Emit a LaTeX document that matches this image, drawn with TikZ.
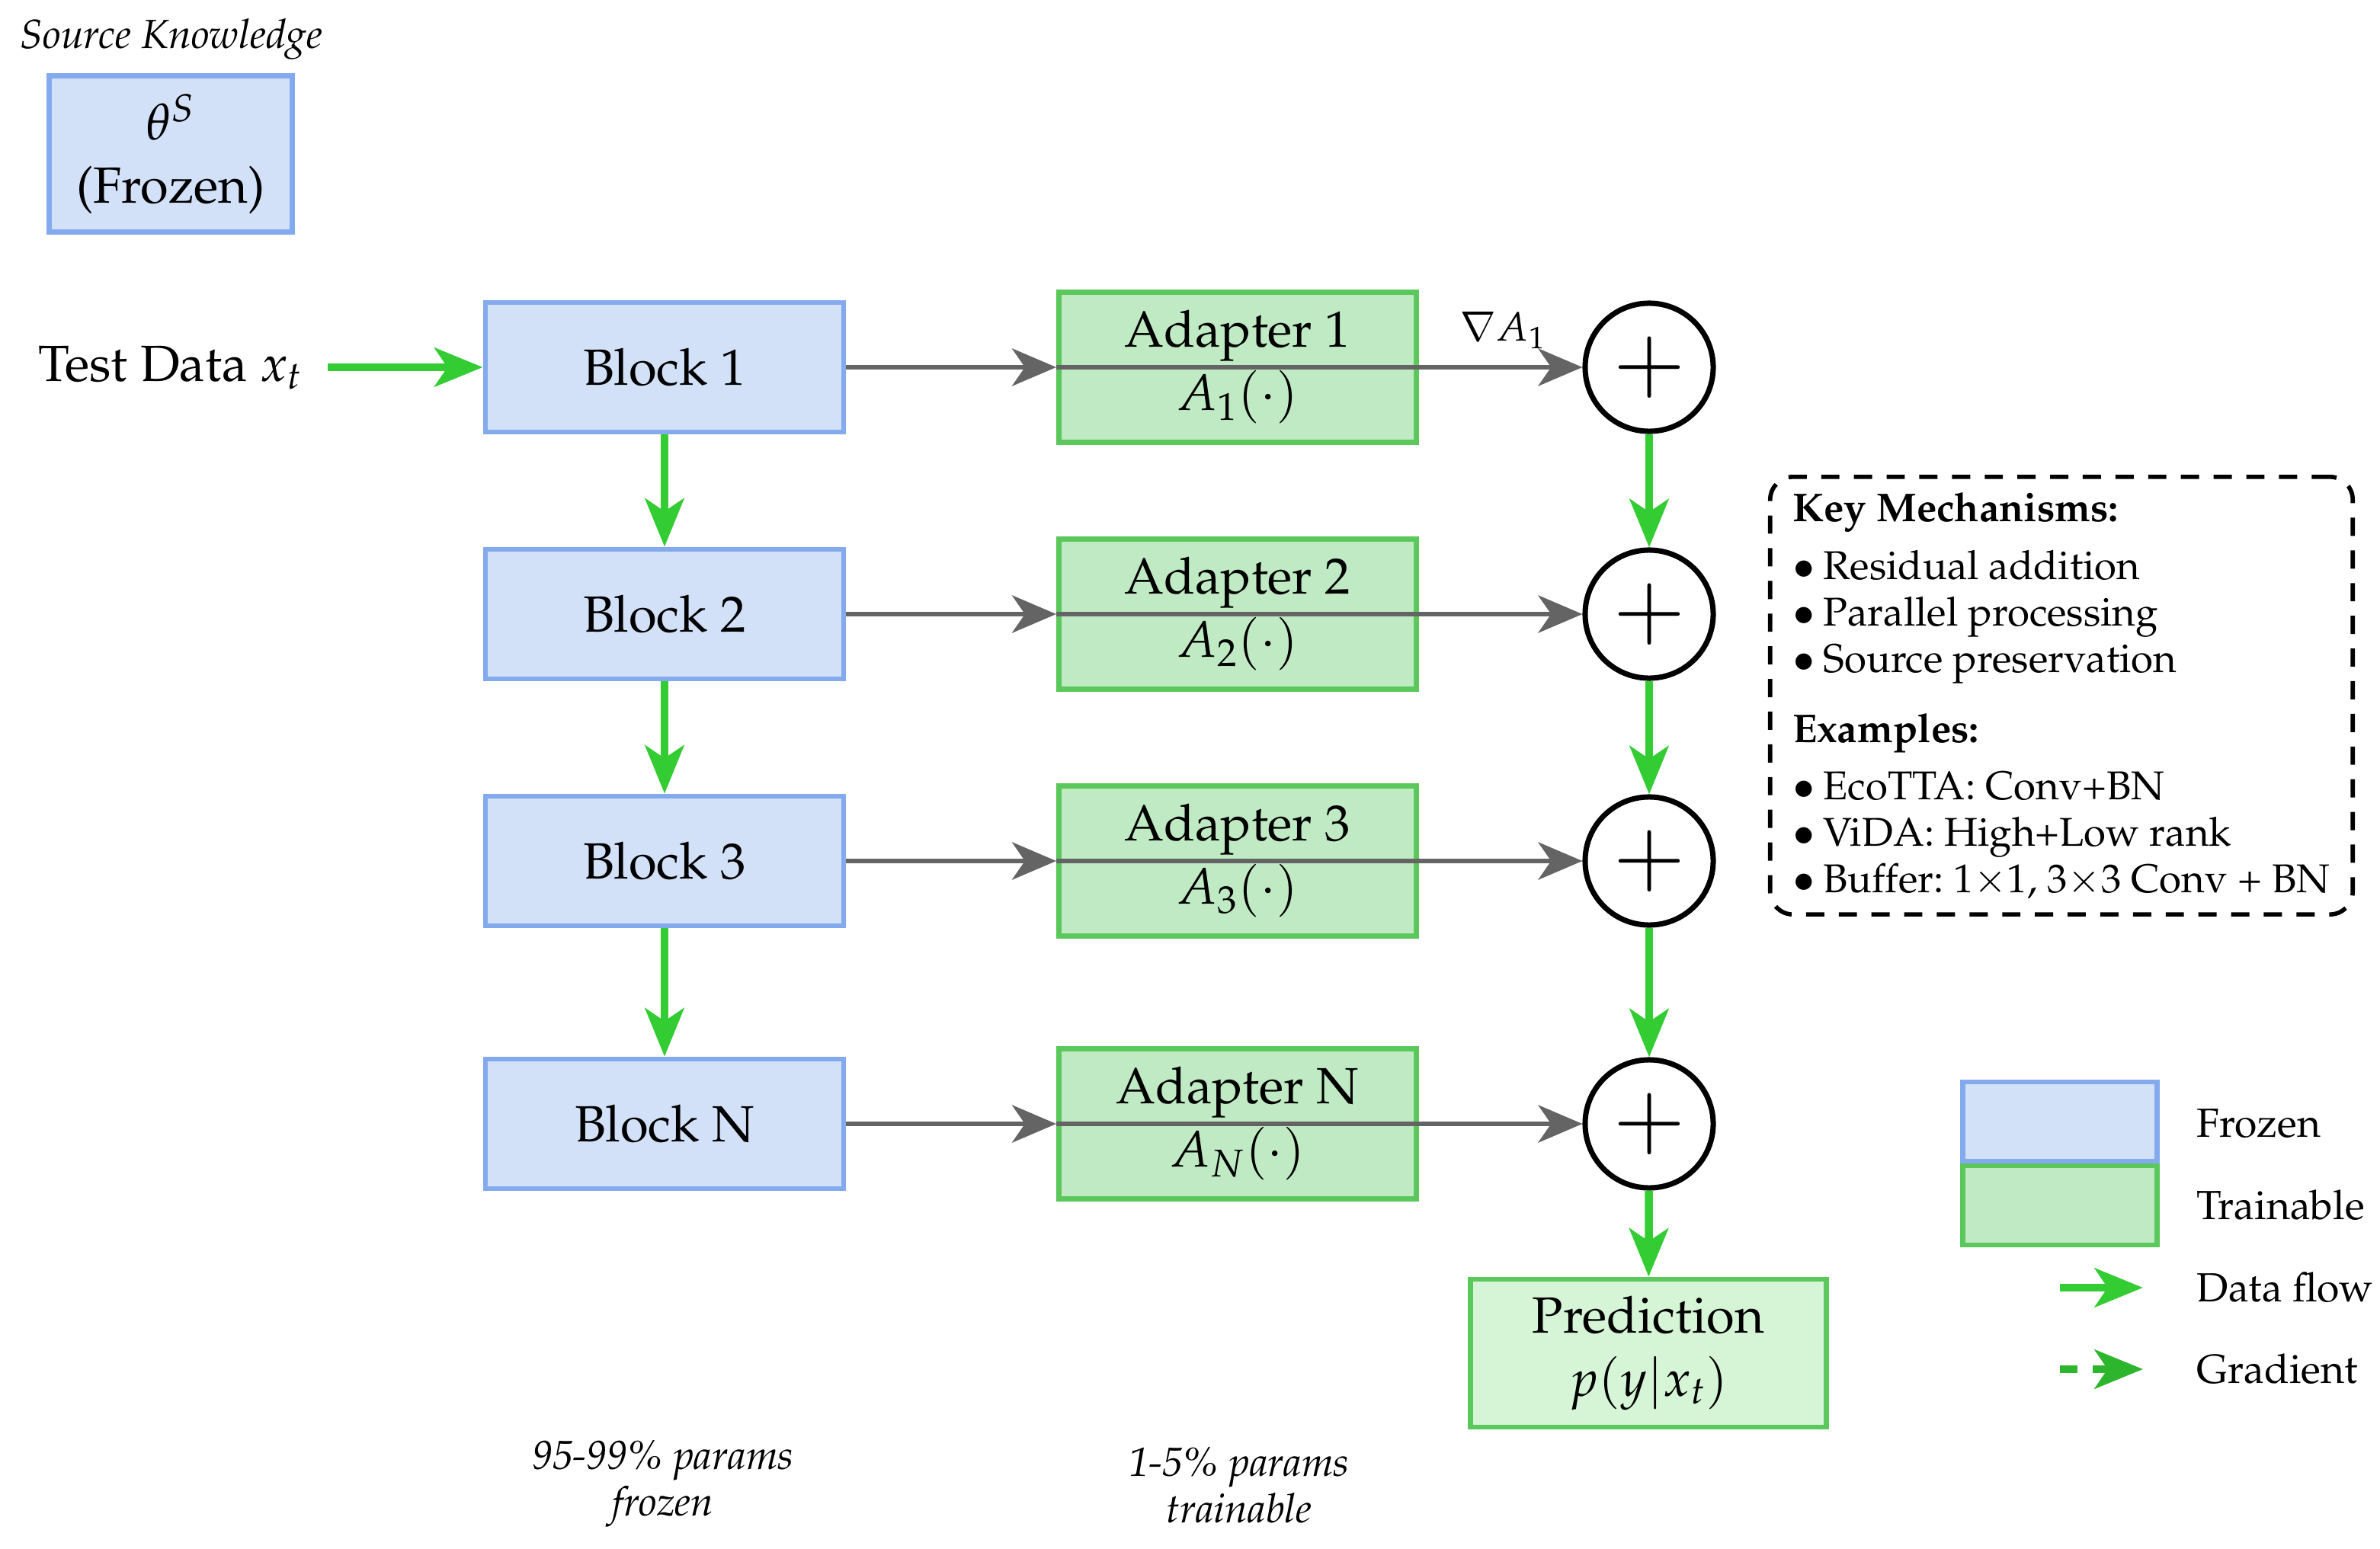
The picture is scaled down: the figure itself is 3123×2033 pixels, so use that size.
\documentclass[tikz,border=0pt]{standalone}
\usepackage[T1]{fontenc}
\usepackage{mathpazo}
\usetikzlibrary{arrows.meta}
\definecolor{frzfill}{RGB}{210,224,248}
\definecolor{frzdraw}{RGB}{132,170,238}
\definecolor{trnfill}{RGB}{192,234,195}
\definecolor{trndraw}{RGB}{90,200,90}
\definecolor{predfill}{RGB}{214,244,214}
\definecolor{flowgreen}{RGB}{51,204,51}
\definecolor{gradgreen}{RGB}{45,181,45}
\definecolor{arrowgray}{RGB}{100,100,100}
\newcommand{\fsbig}{\fontsize{19}{23.6}\selectfont}
\newcommand{\fsmed}{\fontsize{15.2}{17.4}\selectfont}
\newcommand{\fskey}{\fontsize{15}{17.4}\selectfont\frenchspacing}
\newcommand{\fsplus}{\fontsize{33}{33}\selectfont}
\newcommand{\kb}{$\bullet$\hspace{0.22em}}
\begin{document}
\begin{tikzpicture}[x=0.01cm,y=-0.01cm,
  frozenbox/.style={draw=frzdraw, fill=frzfill, line width=1.9pt, minimum width=4.7cm, minimum height=1.7cm, align=center, font=\fsbig, inner sep=0pt},
  adapterbox/.style={draw=trndraw, fill=trnfill, line width=1.9pt, minimum width=4.69cm, minimum height=1.97cm, align=center, font=\fsbig, inner sep=0pt},
  predbox/.style={draw=trndraw, fill=predfill, line width=1.9pt, minimum width=4.67cm, minimum height=1.94cm, align=center, font=\fsbig, inner sep=0pt},
  sumnode/.style={circle, draw=black, line width=2pt, minimum size=1.68cm, inner sep=0pt, font=\fsplus},
  flow/.style={draw=flowgreen, line width=3pt, -{Stealth[length=18pt,width=14.5pt,inset=4.8pt]}},
  gradflow/.style={draw=gradgreen, line width=3pt, dash pattern=on 6.5pt off 5.7pt, -{Stealth[length=18pt,width=14.5pt,inset=4.8pt]}},
  passarrow/.style={draw=arrowgray, line width=1.8pt, -{Stealth[length=16.5pt,width=14pt,inset=4.8pt]}},
  medtext/.style={font=\fsmed, inner sep=0pt},
  legbox/.style={line width=1.9pt, minimum width=2.55cm, minimum height=1.04cm, inner sep=0pt}
]
\useasboundingbox (0,0) rectangle (3123,2033);

% source knowledge
\node[medtext, anchor=base, font=\fsmed\itshape] (srclabel) at (225,63) {Source Knowledge};
\node[frozenbox, minimum width=3.19cm, minimum height=2.05cm] (theta) at (224,202) {$\theta^S$\\(Frozen)};

% input
\node[font=\fsbig, anchor=base east, inner sep=0pt] (test) at (398,500) {Test Data $x_t$};
\coordinate (tin) at (430,482);

% blocks
\node[frozenbox] (b1) at (872,482) {Block 1};
\node[frozenbox] (b2) at (872,806) {Block 2};
\node[frozenbox] (b3) at (872,1130) {Block 3};
\node[frozenbox] (bN) at (872,1475) {Block N};

% adapters
\node[adapterbox] (a1) at (1624,482) {Adapter 1\\$A_1(\cdot)$};
\node[adapterbox] (a2) at (1624,806) {Adapter 2\\$A_2(\cdot)$};
\node[adapterbox] (a3) at (1624,1130) {Adapter 3\\$A_3(\cdot)$};
\node[adapterbox] (aN) at (1624,1475) {Adapter N\\$A_N(\cdot)$};

% sums
\node[sumnode] (c1) at (2164,482) {$+$};
\node[sumnode] (c2) at (2164,806) {$+$};
\node[sumnode] (c3) at (2164,1130) {$+$};
\node[sumnode] (cN) at (2164,1475) {$+$};

% prediction
\node[predbox] (pred) at (2163,1776) {Prediction\\$p(y|x_t)$};

% connectors
\draw[flow] (tin) -- (b1);
\draw[flow] (b1) -- (b2);
\draw[flow] (b2) -- (b3);
\draw[flow] (b3) -- (bN);

\draw[passarrow] (b1.east) -- (a1.west);
\draw[passarrow] (a1.west) -- (c1);
\draw[passarrow] (b2.east) -- (a2.west);
\draw[passarrow] (a2.west) -- (c2);
\draw[passarrow] (b3.east) -- (a3.west);
\draw[passarrow] (a3.west) -- (c3);
\draw[passarrow] (bN.east) -- (aN.west);
\draw[passarrow] (aN.west) -- (cN);

\node[medtext] (grad) at (1972,434) {$\nabla A_1$};

\draw[flow] (c1) -- (c2);
\draw[flow] (c2) -- (c3);
\draw[flow] (c3) -- (cN);
\draw[flow] (cN) -- (pred);

% key mechanisms box
\node[draw=black, line width=1.6pt, dash pattern=on 6.8pt off 5.4pt, rounded corners=0.3cm,
      minimum width=7.64cm, minimum height=5.74cm, inner sep=0pt, align=left, font=\fskey]
  (keybox) at (2705,913) {%
  \textbf{Key Mechanisms:}\\[4.3pt]
  \kb Residual addition\\
  \kb Parallel processing\\
  \kb Source preservation\\[8.8pt]
  \textbf{Examples:}\\[3.7pt]
  \kb EcoTTA: Conv+BN\\
  \kb ViDA: High+Low rank\\
  \kb Buffer: 1$\times$1, 3$\times$3 Conv + BN};

% legend
\node[legbox, draw=frzdraw, fill=frzfill] (legfrz) at (2703,1472) {};
\node[legbox, draw=trndraw, fill=trnfill] (legtrn) at (2703,1582) {};
\node[medtext, anchor=base west] (lfrz) at (2882,1492) {Frozen};
\node[medtext, anchor=base west] (ltrn) at (2882,1600) {Trainable};
\node[medtext, anchor=base west] (lflow) at (2882,1708) {Data flow};
\node[medtext, anchor=base west] (lgrad) at (2882,1815) {Gradient};
\coordinate (lf1) at (2703,1690);
\coordinate (lf2) at (2812,1690);
\coordinate (lg1) at (2703,1797);
\coordinate (lg2) at (2812,1797);
\draw[flow] (lf1) -- (lf2);
\draw[gradflow] (lg1) -- (lg2);

% bottom notes
\node[medtext, font=\fsmed\itshape, align=center] (notefrz) at (870,1948) {95-99\% params\\frozen};
\node[medtext, font=\fsmed\itshape, align=center] (notetrn) at (1626,1950) {1-5\% params\\trainable};
\end{tikzpicture}
\end{document}
